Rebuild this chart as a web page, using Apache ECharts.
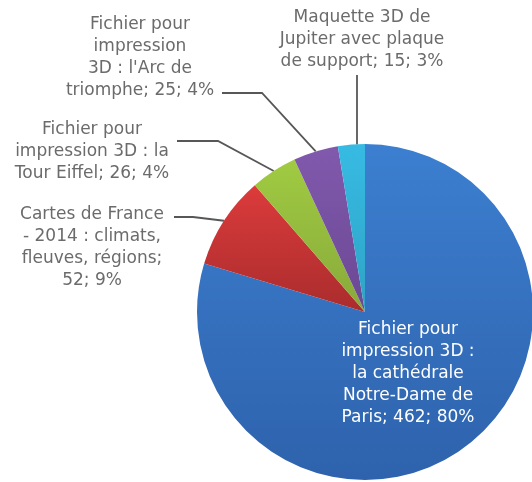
<!DOCTYPE html>
<html>
<head>
<meta charset="utf-8">
<script src="https://cdn.jsdelivr.net/npm/echarts@6/dist/echarts.min.js"></script>
<style>
  html, body { margin: 0; padding: 0; background: #ffffff; }
  #chart { width: 532px; height: 482px; }
</style>
</head>
<body>
<div id="chart"></div>
<script>
// Ventes par produit
const categories = [
  "Fichier pour impression 3D : la cathédrale Notre-Dame de Paris",
  "Cartes de France - 2014 : climats, fleuves, régions",
  "Fichier pour impression 3D : la Tour Eiffel",
  "Fichier pour impression 3D : l'Arc de triomphe",
  "Maquette 3D de Jupiter avec plaque de support"
];
const values = [462, 52, 26, 25, 15];

// words per label line
const lineWordCounts = [
  [2, 3, 2, 2, 3],
  [3, 4, 2, 2],
  [2, 4, 4],
  [2, 1, 4, 3],
  [3, 3, 4]
];

const sliceColors = [
  ["#3c7fd0", "#2e62ac"],
  ["#dc3b3b", "#aa2c2d"],
  ["#a0cb42", "#88a93a"],
  ["#8159ad", "#6a4893"],
  ["#37bbe3", "#2ea3c6"]
];

// label placement: anchor (centre x, top y), elbow points, line end
const labelPlacement = [
  { x: 408, y: 319, color: "#ffffff", elbows: null, end: null },
  { x: 92, y: 204, color: "#6b6b6b", elbows: [[193, 217]], end: [174, 217] },
  { x: 92, y: 119, color: "#6b6b6b", elbows: [[218, 141]], end: [177, 141] },
  { x: 140, y: 14, color: "#6b6b6b", elbows: [[262, 93]], end: [222, 93] },
  { x: 362, y: 7, color: "#6b6b6b", elbows: [], end: [357, 75], vertical: true }
];

const total = values.reduce((a, b) => a + b, 0);

function wrapLabel(i) {
  const pct = Math.round(values[i] / total * 100);
  const words = (categories[i] + "; " + values[i] + "; " + pct + "%").split(" ");
  const lines = [];
  let k = 0;
  lineWordCounts[i].forEach(n => {
    lines.push(words.slice(k, k + n).join(" "));
    k += n;
  });
  return lines.join("\n");
}

const seriesData = categories.map((name, i) => ({
  name: name,
  value: values[i],
  itemStyle: {
    color: new echarts.graphic.LinearGradient(0, 0, 0, 1, [
      { offset: 0, color: sliceColors[i][0] },
      { offset: 1, color: sliceColors[i][1] }
    ])
  },
  label: {
    color: labelPlacement[i].color,
    position: labelPlacement[i].end === null ? "inside" : "outside"
  },
  labelLine: { show: labelPlacement[i].end !== null }
}));

const chart = echarts.init(document.getElementById("chart"), null, { renderer: "canvas" });

chart.setOption({
  backgroundColor: "#ffffff",
  animation: false,
  series: [{
    type: "pie",
    center: [365, 312],
    radius: 168,
    startAngle: 90,
    clockwise: true,
    data: seriesData,
    label: {
      show: true,
      formatter: p => wrapLabel(p.dataIndex),
      fontFamily: "DejaVu Sans",
      fontSize: 17,
      lineHeight: 22,
      align: "center",
      overflow: "none",
      width: 300
    },
    labelLine: {
      show: true,
      lineStyle: { color: "#575757", width: 1.8 }
    },
    labelLayout: params => {
      const cfg = labelPlacement[params.dataIndex];
      const out = { x: cfg.x, y: cfg.y, align: "center", verticalAlign: "top" };
      if (cfg.end && params.labelLinePoints) {
        const edge = params.labelLinePoints[0];
        const end = cfg.vertical ? [cfg.end[0], cfg.end[1]] : cfg.end;
        const start = cfg.vertical ? [cfg.end[0], edge[1]] : edge;
        out.labelLinePoints = [start].concat(cfg.elbows).concat([end]);
      }
      return out;
    }
  }]
});
</script>
</body>
</html>
